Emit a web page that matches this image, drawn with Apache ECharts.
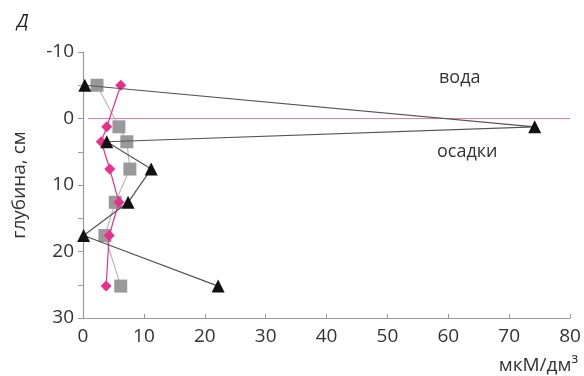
<!DOCTYPE html>
<html><head><meta charset="utf-8">
<script src="https://cdn.jsdelivr.net/npm/echarts@6/dist/echarts.min.js"></script>
<style>html,body{margin:0;padding:0;background:#fff}#c{width:584px;height:376px}</style>
</head><body><div id="c"></div>
<script>
var depths = [-5, 1.25, 3.5, 7.6, 12.6, 17.6, 25.2];
var triangleValues = [0.3, 74.2, 3.9, 11.2, 7.4, 0.1, 22.2];
var squareValues = [2.3, 5.9, 7.2, 7.7, 5.3, 3.6, 6.2];
var diamondValues = [6.2, 3.9, 3.0, 4.4, 5.9, 4.3, 3.8];
var xTicks = [0, 10, 20, 30, 40, 50, 60, 70, 80];
var yTicks = [-10, 0, 10, 20, 30];
var boundaryLine = [[0.8, 0], [80, 0]];

function pairs(vals){ return vals.map(function(v,i){ return [v, depths[i]]; }); }

var chart = echarts.init(document.getElementById('c'), null, {renderer:'canvas'});
var font = '"Open Sans", "Noto Sans", sans-serif';
chart.setOption({
  animation:false,
  backgroundColor:'#fff',
  grid:{left:83, right:14, top:52, bottom:58},
  xAxis:{type:'value', min:xTicks[0], max:xTicks[xTicks.length-1], interval:10,
    axisLine:{onZero:false, lineStyle:{color:'#9a9a9a', width:1.2}},
    axisTick:{show:true, inside:true, length:4, lineStyle:{color:'#9a9a9a'}},
    splitLine:{show:false},
    axisLabel:{color:'#333', fontSize:19, fontFamily:font, margin:9},
    name:'мкМ/дм³', nameLocation:'end', nameGap:0,
    nameTextStyle:{color:'#333', fontSize:19, fontFamily:font, align:'right', verticalAlign:'top', padding:[38,-8,0,0]}
  },
  yAxis:{type:'value', inverse:true, min:yTicks[0], max:yTicks[yTicks.length-1], interval:10,
    axisLine:{show:true, onZero:false, lineStyle:{color:'#9a9a9a', width:1.2}},
    axisTick:{show:true, length:5, lineStyle:{color:'#9a9a9a'}},
    minorTick:{show:true, splitNumber:2, length:5, lineStyle:{color:'#9a9a9a'}},
    splitLine:{show:false},
    axisLabel:{color:'#333', fontSize:19, fontFamily:font, margin:9},
    name:'глубина, см', nameLocation:'middle', nameGap:54, nameRotate:90,
    nameTextStyle:{color:'#333', fontSize:19, fontFamily:font}
  },
  graphic:[
    {type:'text', left:17, top:13, style:{text:'Д', fill:'#222', font:'italic 18px "Open Sans", sans-serif'}},
    {type:'text', left:439, top:69, style:{text:'вода', fill:'#333', font:'18px "Open Sans", sans-serif'}},
    {type:'text', left:437, top:143, style:{text:'осадки', fill:'#333', font:'18px "Open Sans", sans-serif'}}
  ],
  series:[
    {type:'line', data:boundaryLine, symbol:'none', lineStyle:{color:'#f07ab0', width:1.2}, silent:true, z:1},
    {type:'line', data:pairs(squareValues), symbol:'rect', symbolSize:13,
      itemStyle:{color:'#999'}, lineStyle:{color:'#b8b8b8', width:1.2}, z:2},
    {type:'line', data:pairs(diamondValues), symbol:'diamond', symbolSize:11,
      itemStyle:{color:'#e8308a'}, lineStyle:{color:'#e8308a', width:1.2}, z:3},
    {type:'line', data:pairs(triangleValues), symbol:'triangle', symbolSize:13,
      itemStyle:{color:'#111'}, lineStyle:{color:'#555', width:1.2}, z:4}
  ]
});
</script></body></html>
